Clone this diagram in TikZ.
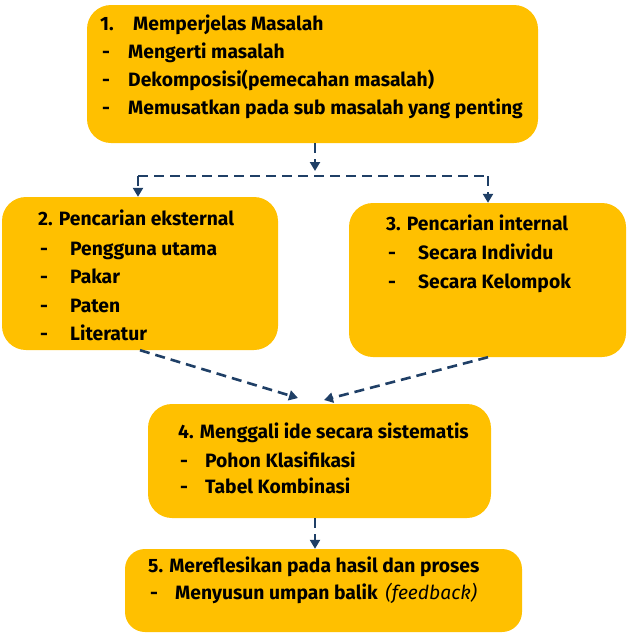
\documentclass[tikz,border=0pt]{standalone}
\usepackage{fontspec}
\setmainfont{Fira Sans}
\usetikzlibrary{arrows.meta,calc}
\definecolor{boxyel}{HTML}{FFC000}
\definecolor{arrblue}{HTML}{1F3F66}
\tikzset{
  boxnode/.style={fill=boxyel, draw=none, rounded corners=24pt, inner sep=0pt},
  lbl/.style={anchor=base west, inner sep=0pt, font=\fontsize{19.3}{22}\selectfont\bfseries},
  arr/.style={draw=arrblue, line width=2.6pt, dash pattern=on 10pt off 6pt, -{Triangle[length=9pt,width=10pt]}},
  plain/.style={draw=arrblue, line width=2.6pt, dash pattern=on 10pt off 6pt}
}
\begin{document}
\begin{tikzpicture}[x=1pt,y=-1pt]
\useasboundingbox (0,0) rectangle (627,633);
% boxes
\node[boxnode, minimum width=451pt, minimum height=138pt] (b1) at (312.5,74) {};
\node[boxnode, minimum width=276pt, minimum height=153pt] (b2) at (140,273.5) {};
\node[boxnode, minimum width=277pt, minimum height=154pt] (b3) at (487.5,280) {};
\node[boxnode, minimum width=343pt, minimum height=114pt] (b4) at (319.5,461) {};
\node[boxnode, minimum width=397pt, minimum height=83pt, rounded corners=20pt] (b5) at (323.5,590.5) {};
% box 1 text
\node[lbl] (t1n) at (100,30) {1.};
\node[lbl] (t1) at (133,30) {Memperjelas Masalah};
\node[lbl] (t1d1) at (102,58) {-};
\node[lbl] (t1a) at (128,58) {Mengerti masalah};
\node[lbl] (t1d2) at (102,86) {-};
\node[lbl] (t1b) at (128,86) {Dekomposisi(pemecahan masalah)};
\node[lbl] (t1d3) at (102,114) {-};
\node[lbl] (t1c) at (128,114) {Memusatkan pada sub masalah yang penting};
% box 2 text
\node[lbl] (t2) at (38,225) {2. Pencarian eksternal};
\node[lbl] (t2d1) at (40,255) {-};
\node[lbl] (t2a) at (70,255) {Pengguna utama};
\node[lbl] (t2d2) at (40,283) {-};
\node[lbl] (t2b) at (70,283) {Pakar};
\node[lbl] (t2d3) at (40,312) {-};
\node[lbl] (t2c) at (70,312) {Paten};
\node[lbl] (t2d4) at (40,340) {-};
\node[lbl] (t2e) at (70,340) {Literatur};
% box 3 text
\node[lbl] (t3) at (386,230) {3. Pencarian internal};
\node[lbl] (t3d1) at (388,259) {-};
\node[lbl] (t3a) at (418,259) {Secara Individu};
\node[lbl] (t3d2) at (388,288) {-};
\node[lbl] (t3b) at (418,288) {Secara Kelompok};
% box 4 text
\node[lbl] (t4) at (178,438) {4. Menggali ide secara sistematis};
\node[lbl] (t4d1) at (180,467) {-};
\node[lbl] (t4a) at (205,467) {Pohon Klasifikasi};
\node[lbl] (t4d2) at (180,493) {-};
\node[lbl] (t4b) at (205,493) {Tabel Kombinasi};
% box 5 text
\node[lbl] (t5) at (148,572) {5. Mereflesikan pada hasil dan proses};
\node[lbl] (t5d1) at (150,599) {-};
\node[lbl] (t5a) at (175,599) {Menyusun umpan balik \,{\mdseries\itshape (feedback)}};
% connectors
\coordinate (j) at (315,171);
\coordinate (hl) at (138,176);
\coordinate (hr) at (488,176);
\coordinate (e2) at (140,0);
\coordinate (e3) at (488,0);
\coordinate (m4a) at (298,398);
\coordinate (m4b) at (324,400);
\coordinate (v45) at (315,0);
\draw[arr] (b1.south -| j) -- (j);
\draw[plain] (hl) -- (hr);
\draw[arr] (hl) -- (b2.north -| hl);
\draw[arr] (hr) -- (b3.north -| hr);
\draw[arr] (b2.south -| e2) -- (m4a);
\draw[arr] (b3.south -| e3) -- (m4b);
\draw[arr] (b4.south -| v45) -- (b5.north -| v45);
\end{tikzpicture}
\end{document}
